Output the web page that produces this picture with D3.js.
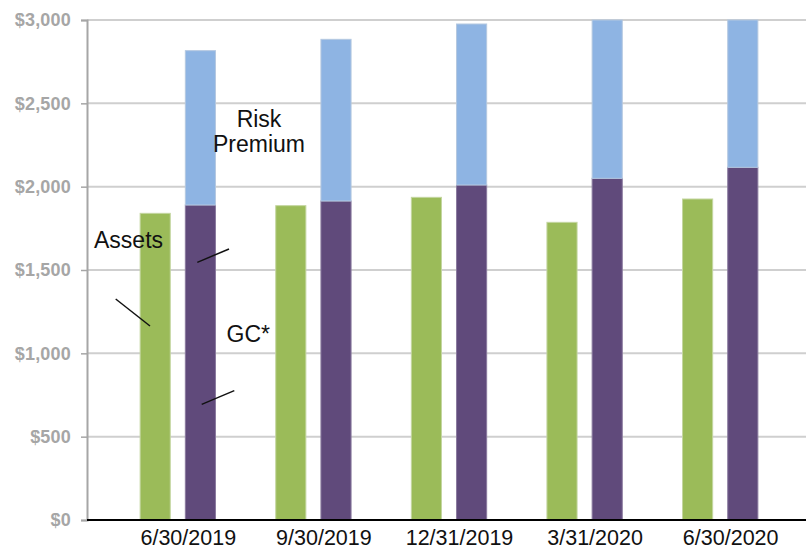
<!DOCTYPE html>
<html>
<head>
<meta charset="utf-8">
<script src="https://cdn.jsdelivr.net/npm/d3@7"></script>
<style>
  html, body { margin: 0; padding: 0; background: #fff; }
  svg { display: block; }
</style>
</head>
<body>
<svg id="chart" width="806" height="550"></svg>
<script>
const categories = ["6/30/2019", "9/30/2019", "12/31/2019", "3/31/2020", "6/30/2020"];
const assets = [1840, 1886, 1936, 1786, 1926];
const gc = [1890, 1914, 2010, 2050, 2116];
const riskPremium = [926, 970, 966, 950, 884];
const yTicks = [0, 500, 1000, 1500, 2000, 2500, 3000];

(function () {
const svg = d3.select("#chart");
const plotLeft = 87, plotTop = 20, plotBottom = 520, plotRight = 806;
const fontFam = "'Liberation Sans', Arial, sans-serif";

const y = d3.scaleLinear().domain([0, 3000]).range([plotBottom, plotTop]);
const x = d3.scaleBand().domain(categories).range([110, 788]).padding(0);
const inner = d3.scaleBand().domain(["Assets", "GC"]).range([0, x.bandwidth()])
  .paddingInner(1/3).paddingOuter(2/3);

// gridlines
svg.append("g").selectAll("line").data(yTicks.filter(d => d > 0)).join("line")
  .attr("x1", plotLeft).attr("x2", plotRight + 10)
  .attr("y1", d => y(d)).attr("y2", d => y(d))
  .attr("stroke", "#cfcfcf").attr("stroke-width", 2);

// y axis
const yAxis = svg.append("g").attr("transform", `translate(${plotLeft},0)`)
  .call(d3.axisLeft(y).tickValues(yTicks).tickSize(6).tickPadding(10)
    .tickFormat(d => "$" + d3.format(",")(d)));
yAxis.select(".domain").attr("stroke", "#a6a6a6").attr("stroke-width", 2);
yAxis.selectAll(".tick line").attr("stroke", "#a6a6a6").attr("stroke-width", 1.5);
yAxis.selectAll(".tick text")
  .attr("fill", "#a6a6a6").attr("font-family", fontFam)
  .attr("font-size", 18).attr("font-weight", "bold").attr("dy", "0.32em")
  .style("letter-spacing", "0.2px");

const data = categories.map((c, i) => ({ cat: c, assets: assets[i], gc: gc[i], rp: riskPremium[i] }));

const bars = svg.append("g");
bars.selectAll("rect.assets").data(data).join("rect").attr("class", "assets")
  .attr("x", d => x(d.cat) + inner("Assets"))
  .attr("width", inner.bandwidth())
  .attr("y", d => y(d.assets))
  .attr("height", d => y(0) - y(d.assets))
  .attr("fill", "#9bbb59").attr("stroke", "#c4d6a0").attr("stroke-width", 1);
bars.selectAll("rect.gc").data(data).join("rect").attr("class", "gc")
  .attr("x", d => x(d.cat) + inner("GC"))
  .attr("width", inner.bandwidth())
  .attr("y", d => y(d.gc))
  .attr("height", d => y(0) - y(d.gc))
  .attr("fill", "#604a7b").attr("stroke", "#8a7a9e").attr("stroke-width", 1);
bars.selectAll("rect.rp").data(data).join("rect").attr("class", "rp")
  .attr("x", d => x(d.cat) + inner("GC"))
  .attr("width", inner.bandwidth())
  .attr("y", d => y(d.gc + d.rp))
  .attr("height", d => y(d.gc) - y(d.gc + d.rp))
  .attr("fill", "#8eb4e3").attr("stroke", "#b4c8e0").attr("stroke-width", 1);

// x axis line
svg.append("line").attr("x1", plotLeft).attr("x2", plotRight + 10)
  .attr("y1", y(0)).attr("y2", y(0))
  .attr("stroke", "#000").attr("stroke-width", 2);

// x labels
svg.append("g").selectAll("text").data(categories).join("text")
  .attr("x", d => x(d) + x.bandwidth() / 2 + 10.5)
  .attr("y", 545)
  .attr("text-anchor", "middle")
  .attr("font-family", fontFam).attr("font-size", 21.5).attr("fill", "#111")
  .text(d => d);

// annotations (anchored to the first category)
const x0 = x(categories[0]);
const annoTexts = [
  { t: "Risk", dx: 149, v: 2360, anchor: "middle" },
  { t: "Premium", dx: 149, v: 2206, anchor: "middle" },
  { t: "Assets", dx: -16, v: 1634, anchor: "start" },
  { t: "GC*", dx: 116.5, v: 1070, anchor: "start" }
];
svg.append("g").selectAll("text").data(annoTexts).join("text")
  .attr("x", d => x0 + d.dx).attr("y", d => y(d.v))
  .attr("text-anchor", d => d.anchor)
  .attr("font-family", fontFam).attr("font-size", 23).attr("fill", "#111")
  .text(d => d.t);

const annoLines = [
  { dx1: 5.7, v1: 1326, dx2: 40, v2: 1164 },
  { dx1: 87.3, v1: 1546, dx2: 119, v2: 1626 },
  { dx1: 91.7, v1: 694, dx2: 124.3, v2: 776 }
];
svg.append("g").selectAll("line").data(annoLines).join("line")
  .attr("x1", d => x0 + d.dx1).attr("y1", d => y(d.v1))
  .attr("x2", d => x0 + d.dx2).attr("y2", d => y(d.v2))
  .attr("stroke", "#111").attr("stroke-width", 1.5);
})();
</script>
</body>
</html>
